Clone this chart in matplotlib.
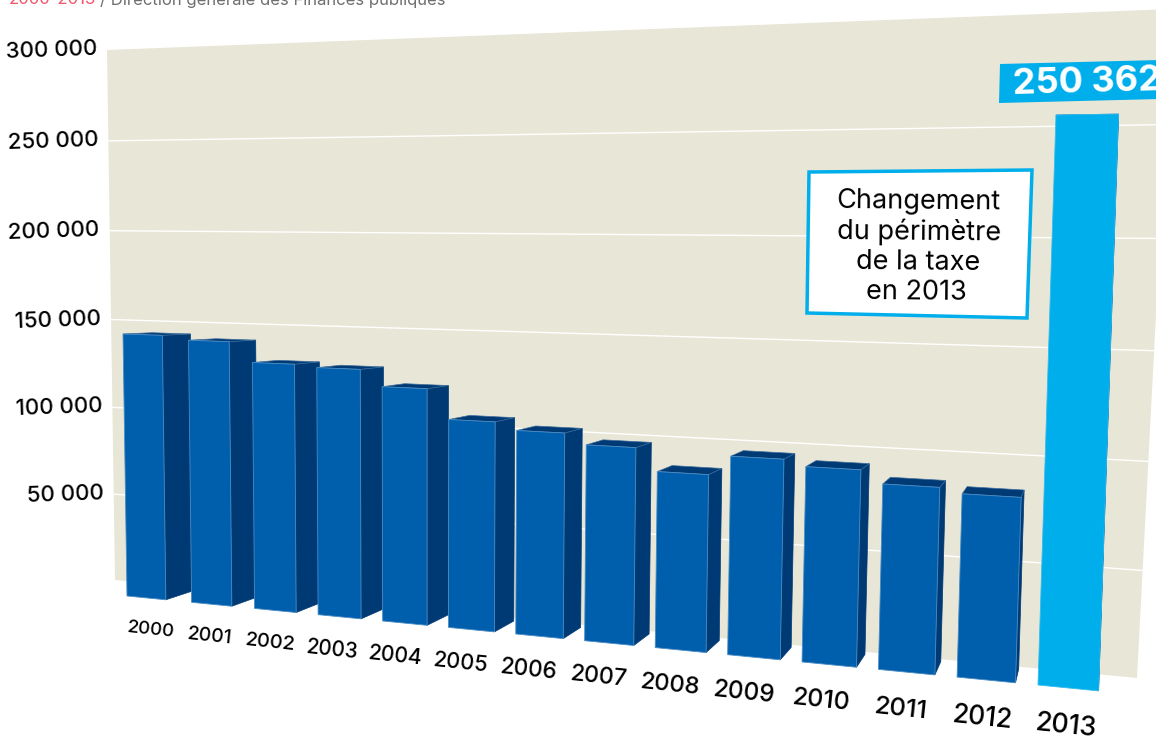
import numpy as np
import matplotlib
matplotlib.use('Agg')
import matplotlib.pyplot as plt
from matplotlib.patches import Polygon

years = ['2000', '2001', '2002', '2003', '2004', '2005', '2006',
         '2007', '2008', '2009', '2010', '2011', '2012', '2013']
values = [142000, 139900, 129500, 128200, 119900, 105000, 101300,
          96100, 85200, 94500, 91600, 85700, 83400, 250362]
grid_values = [50000, 100000, 150000, 200000, 250000, 300000]
grid_labels = ['50 000', '100 000', '150 000', '200 000', '250 000', '300 000']
note_lines = ['Changement', 'du périmètre', 'de la taxe', 'en 2013']
highlight_label = '250 362'
source_years = '2000-2013'
source_rest = '/ Direction générale des Finances publiques'

BLUE = '#005fad'
DARK = '#003a75'
CYAN = '#00aeeb'
WALL = '#e8e6d6'

plt.rcParams['font.family'] = ['Inter', 'DejaVu Sans']


def fit_homography(src, dst):
    rows, rhs = [], []
    for (x, y), (u, v) in zip(src, dst):
        rows.append([x, y, 1, 0, 0, 0, -u * x, -u * y])
        rows.append([0, 0, 0, x, y, 1, -v * x, -v * y])
        rhs += [u, v]
    h = np.linalg.solve(np.array(rows, float), np.array(rhs, float))
    return np.append(h, 1).reshape(3, 3)


# value axis is in units of 100 000 so the solve stays well conditioned
front = fit_homography(
    [(0, 0), (13, 0), (13, 2.50362), (0, 1.42)],
    [(127, 596), (1038, 685), (1056, 115), (123, 334)])
wall = fit_homography(
    [(0, 0), (1, 0), (1, 3), (0, 3)],
    [(115, 580), (1137, 678), (1172, 9), (107, 50)])
vanish = (1105, 290)
depth = 0.03


def project(h, x, v, d=0.0):
    p = h @ np.array([x, v / 1e5, 1.0])
    return ((p[0] + d * vanish[0]) / (p[2] + d),
            (p[1] + d * vanish[1]) / (p[2] + d))


def slot(i):
    # the bars are spaced more evenly than the perspective alone would give
    return 13 * (i / 13) ** 0.96


fig = plt.figure(figsize=(11.56, 7.38), dpi=100)
ax = fig.add_axes([0, 0, 1, 1])
ax.set_xlim(0, 1156)
ax.set_ylim(738, 0)
ax.axis('off')

# back wall and grid
ax.add_patch(Polygon([project(wall, 0, 0), project(wall, 1, 0),
                      project(wall, 1, 300000), project(wall, 0, 300000)],
                     facecolor=WALL, edgecolor='none', zorder=1))
for v, label in zip(grid_values, grid_labels):
    x0, y0 = project(wall, 0, v)
    x1, y1 = project(wall, 1, v)
    if v < 300000:
        ax.plot([x0, x1], [y0, y1], color='white', lw=1, zorder=2)
    ax.text(x0 - 10, y0 - 1, label, fontsize=16, fontweight='medium', color='black',
            ha='right', va='center', rotation=2, rotation_mode='anchor', zorder=3)

# bars, painted left to right
bar_width = np.linspace(0.67, 0.70, len(values))
label_pos = np.linspace(0.41, 0.34, len(values))
font_size = np.linspace(13.5, 19.3, len(values))
for i, (year, val) in enumerate(zip(years, values)):
    x0, x1 = slot(i), slot(i) + bar_width[i]
    last = i == len(values) - 1
    face = CYAN if last else BLUE
    fl_b, fr_b = project(front, x0, 0), project(front, x1, 0)
    fl_t, fr_t = project(front, x0, val), project(front, x1, val)
    br_b = project(front, x1, 0, depth)
    br_t = project(front, x1, val, depth)
    bl_t = project(front, x0, val, depth)
    ax.add_patch(Polygon([fr_b, br_b, br_t, fr_t], facecolor=DARK,
                         edgecolor=DARK, lw=0.5, zorder=4))
    ax.add_patch(Polygon([fl_t, fr_t, br_t, bl_t], facecolor=DARK,
                         edgecolor='#3f6f9f', lw=0.5, zorder=4))
    ax.add_patch(Polygon([fl_b, fr_b, fr_t, fl_t], facecolor=face,
                         edgecolor='#4a8cc4' if not last else '#35bdee',
                         lw=0.6, zorder=4))
    lx, ly = project(front, i + label_pos[i], -17500)
    ax.text(lx, ly, year, fontsize=font_size[i], fontweight='medium', color='black',
            ha='center', va='center', rotation=-6, rotation_mode='anchor', zorder=5)

# note box
ax.add_patch(Polygon([(809, 172), (1032, 170), (1027, 318), (807, 313)],
                     facecolor='white', edgecolor=CYAN, lw=2.5, zorder=6))
for line, (tx, ty) in zip(note_lines, [(919, 202), (919, 232), (918, 263), (916, 292)]):
    ax.text(tx, ty, line, fontsize=19.5, color='black', ha='center',
            va='center', rotation=-0.5, rotation_mode='anchor', zorder=7)

# value banner
ax.add_patch(Polygon([(1000, 64), (1160, 60), (1160, 99), (999, 103)],
                     facecolor=CYAN, edgecolor='none', zorder=6))
ax.text(1013, 85, highlight_label, fontsize=26, fontweight='bold', color='white',
        ha='left', va='center', rotation=1.5, rotation_mode='anchor', zorder=7)

# source line, cut by the top edge as in the original
ax.text(9, 4.5, source_years, fontsize=12, color='#f0566a', ha='left',
        va='baseline', zorder=7)
ax.text(100, 4.5, source_rest, fontsize=12, color='#6f6f6f', ha='left',
        va='baseline', zorder=7)

fig.savefig('out.png', dpi=100)
